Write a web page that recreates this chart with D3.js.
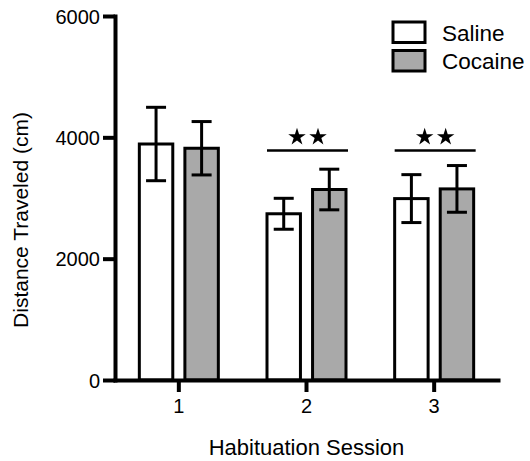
<!DOCTYPE html>
<html>
<head>
<meta charset="utf-8">
<script src="https://cdn.jsdelivr.net/npm/d3@7"></script>
<style>
  body { margin: 0; background: #fff; }
  svg text { font-family: "Liberation Sans", Arial, sans-serif; fill: #000; }
</style>
</head>
<body>
<div id="chart"></div>
<script>
// data
var sessions = ["1", "2", "3"];
var series = ["Saline", "Cocaine"];
var salineMean = [3890, 2740, 2990];
var salineSem = [605, 255, 395];
var cocaineMean = [3820, 3140, 3150];
var cocaineSem = [440, 335, 385];
var yTicks = [0, 2000, 4000, 6000];
var sigSessions = ["2", "3"];

function init() {
    var w = 530, h = 461;
    var fills = { "Saline": "#ffffff", "Cocaine": "#a9a9a9" };

    var rows = [];
    for (var i = 0; i < sessions.length; i++) {
        rows.push({ session: sessions[i], group: "Saline", mean: salineMean[i], sem: salineSem[i] });
        rows.push({ session: sessions[i], group: "Cocaine", mean: cocaineMean[i], sem: cocaineSem[i] });
    }

    var svg = d3.select("#chart").append("svg")
        .attr("width", w)
        .attr("height", h);

    var x = d3.scaleBand().domain(sessions).range([115, 498]);
    var x1 = d3.scaleBand().domain(series).range([-41, 41]).paddingInner(0.2);
    var y = d3.scaleLinear().domain([0, 6000]).range([380, 16]);

    var bw = x1.bandwidth();
    var sw = 3;

    // bars
    svg.selectAll("rect.bar")
        .data(rows)
        .enter()
        .append("rect")
        .attr("class", "bar")
        .attr("x", function (d) { return x(d.session) + x.bandwidth() / 2 + x1(d.group) + sw / 2; })
        .attr("width", bw - sw)
        .attr("y", function (d) { return y(d.mean); })
        .attr("height", function (d) { return y(0) - y(d.mean); })
        .attr("fill", function (d) { return fills[d.group]; })
        .attr("stroke", "#000")
        .attr("stroke-width", sw);

    // error bars
    var eb = svg.selectAll("g.err")
        .data(rows)
        .enter()
        .append("g")
        .attr("class", "err")
        .attr("stroke", "#000")
        .attr("stroke-width", 3);
    function cx(d) { return x(d.session) + x.bandwidth() / 2 + x1(d.group) + bw / 2; }
    eb.append("line")
        .attr("x1", cx).attr("x2", cx)
        .attr("y1", function (d) { return y(d.mean + d.sem); })
        .attr("y2", function (d) { return y(d.mean - d.sem); });
    eb.append("line")
        .attr("x1", function (d) { return cx(d) - 10; })
        .attr("x2", function (d) { return cx(d) + 10; })
        .attr("y1", function (d) { return y(d.mean + d.sem); })
        .attr("y2", function (d) { return y(d.mean + d.sem); });
    eb.append("line")
        .attr("x1", function (d) { return cx(d) - 10; })
        .attr("x2", function (d) { return cx(d) + 10; })
        .attr("y1", function (d) { return y(d.mean - d.sem); })
        .attr("y2", function (d) { return y(d.mean - d.sem); });

    // significance markers
    var sig = svg.selectAll("g.sig")
        .data(sigSessions)
        .enter()
        .append("g")
        .attr("class", "sig")
        .attr("transform", function (d) { return "translate(" + (x(d) + x.bandwidth() / 2 + 1) + ",0)"; });
    sig.append("line")
        .attr("x1", -40.5).attr("x2", 40.5)
        .attr("y1", 150.5).attr("y2", 150.5)
        .attr("stroke", "#000")
        .attr("stroke-width", 2.5);
    sig.selectAll("path")
        .data([-10.5, 10.5])
        .enter()
        .append("path")
        .attr("d", d3.symbol(d3.symbolStar).size(95))
        .attr("transform", function (d) { return "translate(" + d + ",137)"; })
        .attr("fill", "#000");

    // axes
    var yAxis = svg.append("g")
        .attr("transform", "translate(115,0)")
        .call(d3.axisLeft(y).tickValues(yTicks).tickFormat(d3.format("d"))
            .tickSize(12).tickSizeOuter(0).tickPadding(3));
    var xAxis = svg.append("g")
        .attr("transform", "translate(0,380)")
        .call(d3.axisBottom(x).tickSize(12).tickSizeOuter(0).tickPadding(7));

    [yAxis, xAxis].forEach(function (g) {
        g.select(".domain").attr("stroke-width", 4).attr("stroke-linecap", "square");
        g.selectAll(".tick line").attr("stroke-width", 4);
        g.selectAll(".tick text").attr("font-size", 20).attr("font-family", "Liberation Sans, Arial, sans-serif");
    });
    yAxis.selectAll(".tick text").attr("dy", "0.36em");

    // titles
    svg.append("text")
        .attr("x", 306.5)
        .attr("y", 455)
        .attr("text-anchor", "middle")
        .attr("font-size", 22)
        .text("Habituation Session");
    svg.append("text")
        .attr("transform", "translate(28,220) rotate(-90)")
        .attr("text-anchor", "middle")
        .attr("font-size", 21)
        .text("Distance Traveled (cm)");

    // legend
    var leg = svg.selectAll("g.legend")
        .data(series)
        .enter()
        .append("g")
        .attr("class", "legend")
        .attr("transform", function (d, i) { return "translate(393," + (22 + i * 28.5) + ")"; });
    leg.append("rect")
        .attr("width", 32).attr("height", 20.5)
        .attr("fill", function (d) { return fills[d]; })
        .attr("stroke", "#000")
        .attr("stroke-width", 3);
    leg.append("text")
        .attr("x", 49)
        .attr("y", 18.5)
        .attr("font-size", 22.5)
        .text(function (d) { return d; });
}

window.onload = init;
</script>
</body>
</html>
